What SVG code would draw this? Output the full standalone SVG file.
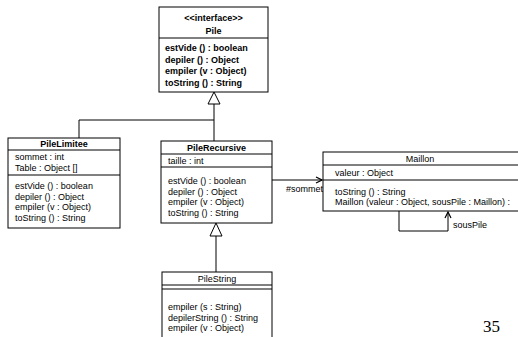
<svg xmlns="http://www.w3.org/2000/svg" width="518" height="337" viewBox="0 0 518 337">
<style>
.box{fill:#fff;stroke:#000;stroke-width:1}
.ln{fill:none;stroke:#000;stroke-width:1}
.t{font-family:"Liberation Sans",Arial,sans-serif;font-size:9px;fill:#000}
.b{font-weight:bold}
.c{text-anchor:middle}
.tri{fill:#fff;stroke:#000;stroke-width:1}
</style>
<defs>
<marker id="open" markerWidth="8" markerHeight="8" refX="7" refY="4" orient="auto" markerUnits="userSpaceOnUse">
<path d="M1,1 L7,4 L1,7" fill="none" stroke="#000" stroke-width="1.2"/>
</marker>
</defs>
<rect width="518" height="337" fill="#fff"/>
<g id="connectors">
<polygon class="tri" points="214,92 208,104 220,104"/>
<line class="ln" x1="214" y1="104" x2="214" y2="141"/>
<polyline class="ln" points="214,120 79,120 79,138"/>
<polygon class="tri" points="216,223 210,236 222,236"/>
<line class="ln" x1="216" y1="236" x2="216" y2="272"/>
<line class="ln" x1="272" y1="180" x2="322" y2="180" marker-end="url(#open)"/>
<text class="t" x="286" y="192">#sommet</text>
<polyline class="ln" points="399,211 399,231 448,231 448,212" marker-end="url(#open)"/>
<text class="t" x="453" y="228">sousPile</text>
</g>
<g id="Pile">
<rect class="box" x="159" y="7" width="109" height="85"/>
<line class="ln" x1="159" y1="38" x2="268" y2="38"/>
<text class="t b c" x="213.5" y="21">&lt;&lt;interface&gt;&gt;</text>
<text class="t b c" x="213.5" y="34">Pile</text>
<text class="t b" x="165" y="51">estVide () : boolean</text>
<text class="t b" x="165" y="62.5">depiler () : Object</text>
<text class="t b" x="165" y="74">empiler (v : Object)</text>
<text class="t b" x="165" y="85.5">toString () : String</text>
</g>
<g id="PileLimitee">
<rect class="box" x="8" y="138" width="112" height="90"/>
<line class="ln" x1="8" y1="150" x2="120" y2="150"/>
<line class="ln" x1="8" y1="175" x2="120" y2="175"/>
<text class="t b c" x="64" y="147">PileLimitee</text>
<text class="t" x="15" y="160">sommet : int</text>
<text class="t" x="15" y="171">Table : Object []</text>
<text class="t" x="15" y="189">estVide () : boolean</text>
<text class="t" x="15" y="199.5">depiler () : Object</text>
<text class="t" x="15" y="210">empiler (v : Object)</text>
<text class="t" x="15" y="220.5">toString () : String</text>
</g>
<g id="PileRecursive">
<rect class="box" x="161" y="141" width="111" height="82"/>
<line class="ln" x1="161" y1="154" x2="272" y2="154"/>
<line class="ln" x1="161" y1="167" x2="272" y2="167"/>
<text class="t b c" x="216.5" y="151">PileRecursive</text>
<text class="t" x="168" y="164">taille : int</text>
<text class="t" x="168" y="184">estVide () : boolean</text>
<text class="t" x="168" y="194.5">depiler () : Object</text>
<text class="t" x="168" y="205">empiler (v : Object)</text>
<text class="t" x="168" y="215.5">toString () : String</text>
</g>
<g id="Maillon">
<rect class="box" x="323" y="152" width="200" height="59"/>
<line class="ln" x1="323" y1="165" x2="518" y2="165"/>
<line class="ln" x1="323" y1="180" x2="518" y2="180"/>
<text class="t c" x="420" y="162">Maillon</text>
<text class="t" x="335" y="176">valeur : Object</text>
<text class="t" x="335" y="195">toString () : String</text>
<text class="t" x="335" y="205">Maillon (valeur : Object, sousPile : Maillon) :</text>
</g>
<g id="PileString">
<rect class="box" x="162" y="272" width="110" height="80"/>
<line class="ln" x1="162" y1="285" x2="272" y2="285"/>
<line class="ln" x1="162" y1="289" x2="272" y2="289"/>
<text class="t c" x="217" y="282">PileString</text>
<text class="t" x="168" y="310">empiler (s : String)</text>
<text class="t" x="168" y="320.5">depilerString () : String</text>
<text class="t" x="168" y="331">empiler (v : Object)</text>
</g>
<text x="483" y="332" style="font-family:'Liberation Serif','Times New Roman',serif;font-size:17px;fill:#000">35</text>
</svg>
